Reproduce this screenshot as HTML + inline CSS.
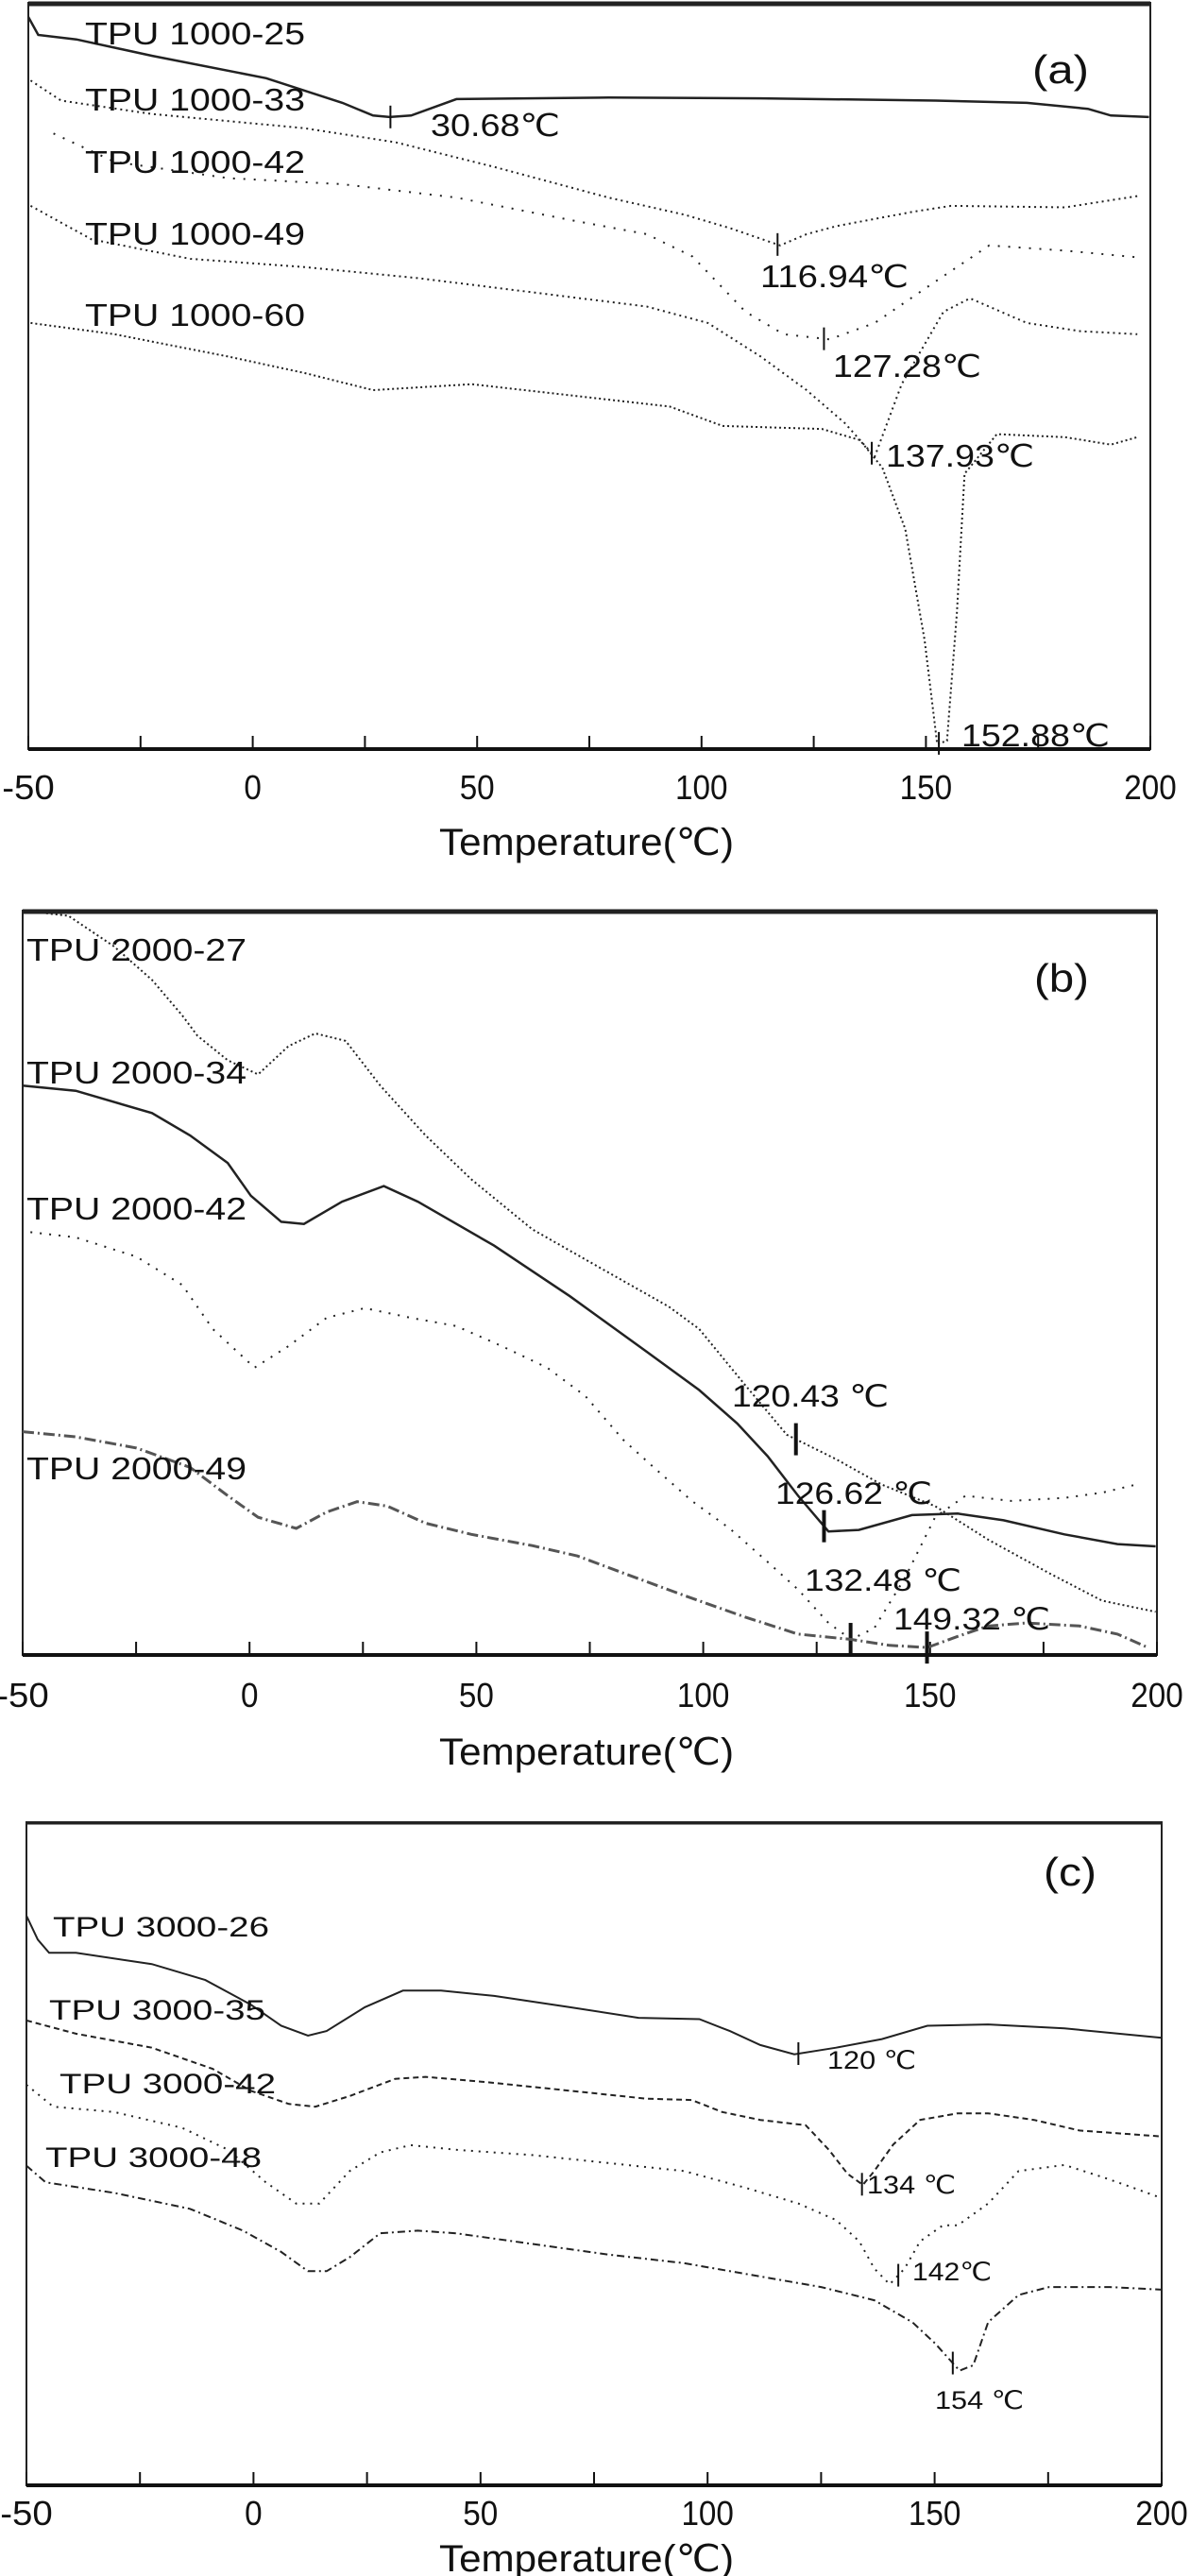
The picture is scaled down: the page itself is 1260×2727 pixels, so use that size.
<!DOCTYPE html>
<html><head><meta charset="utf-8">
<style>
html,body{margin:0;padding:0;background:#fff;}
svg{display:block;font-family:"Liberation Sans",sans-serif;}
</style></head>
<body>
<svg id="fig" width="1260" height="2727" viewBox="0 0 1260 2727" xmlns="http://www.w3.org/2000/svg"></svg>
<script>
// ---------- data: panel (a) ----------
const aT1=[-50,-47.8,-39.3,-22.4,3,20,26.8,30.5,35.3,45.4,79.3,113.2,152.2,172.5,186.1,191.2,199.7];
const aV1=[98.1,95.7,95.1,92.9,89.9,86.6,84.9,84.7,84.9,87.1,87.3,87.2,86.9,86.6,85.8,84.9,84.7];
const aT2=[-49.5,-42.7,-22.4,11.5,31.9,53.9,79.3,96.3,106.4,117.5,123.4,130.2,147.1,155.6,181,197.1];
const aV2=[89.6,86.9,85.1,83.2,81.3,78.0,73.9,71.6,69.8,67.5,69.0,70.1,72.0,72.8,72.6,74.1];
const aT3=[-44.4,-30.8,-5.4,20,45.4,70.8,87.8,98,109.8,118.3,128.5,138.6,152.2,164.1,181,197.1];
const aV3=[82.5,78.7,76.5,75.7,73.9,70.9,69.0,66.0,58.6,55.6,54.9,57.1,62.7,67.5,66.8,65.9];
const aT4=[-49.5,-35.9,-13.9,11.5,37,62.4,87.8,101.4,113.2,123.4,131.9,138.6,144.6,153.9,159.8,172.5,184.4,197.1];
const aV4=[72.8,68.3,65.7,64.6,63.1,61.2,59.3,57.1,52.6,48.1,43.7,39.2,48.9,58.6,60.4,57.1,56.0,55.6];
const aT5=[-49.5,-30.8,-5.4,11.5,26.8,48.8,70.8,92.9,104.7,126.8,135.3,140.3,145.4,149.7,152.5,154.7,156.9,158.6,165.8,181,191.2,197.1];
const aV5=[57.1,55.6,52.6,50.4,48.1,48.9,47.4,45.9,43.3,42.9,41.4,37.7,29.5,14.6,0.7,1.1,18.3,36.9,42.2,41.8,40.8,41.8];
const aNames=["TPU 1000-25","TPU 1000-33","TPU 1000-42","TPU 1000-49","TPU 1000-60"];
const aPeaks=[30.68,116.94,127.28,137.93,152.88];
const aPeakLabels=["30.68℃","116.94℃","127.28℃","137.93℃","152.88℃"];
// ---------- data: panel (b) ----------
const bT1=[-50,-39.9,-29.9,-21.5,-14.8,-11.5,-4.8,1.9,8.6,14.5,21.2,28.8,38.8,48.9,62.3,77.3,92.4,99.1,109.2,118.4,129.3,139.3,151.1,162.8,176.2,187.9,199.7];
const bV1=[100,99.3,95.2,90.7,85.9,83.2,79.9,78.0,81.8,83.5,82.5,76.5,69.8,63.9,57.2,52.0,46.8,43.8,36.3,29.6,26.3,22.9,20.0,15.5,11.0,7.3,5.8];
const bT2=[-50,-38.3,-21.5,-13.1,-4.8,0.3,7.0,12.0,20.4,29.6,37.1,53.9,70.6,87.4,99.1,107.5,114.2,120.9,127.6,134.3,146.0,156.1,166.2,179.6,191.3,199.7];
const bV2=[76.5,75.8,72.8,69.8,66.1,61.7,58.2,57.9,60.9,63.0,60.9,55.0,48.2,40.8,35.6,31.1,26.7,21.4,16.6,16.8,18.8,19.0,18.1,16.2,14.9,14.6];
const bT3=[-48.3,-38.3,-24.9,-14.8,-8.1,1.1,8.6,17.0,25.4,35.5,45.5,55.6,65.6,74.0,82.4,89.1,97.5,105.8,114.2,120.9,127.6,132.6,137.7,144.4,151.1,157.8,167.8,179.6,187.9,195.5];
const bV3=[56.8,56.1,53.5,49.7,43.8,38.6,41.5,45.3,46.6,45.3,44.2,41.5,38.6,34.8,28.9,25.2,20.7,17.0,12.5,8.8,4.3,2.1,3.6,10.3,18.5,21.4,20.7,21.1,21.8,22.9];
const bT4=[-50,-38.3,-24.9,-13.1,-4.8,1.9,10.3,17.0,23.7,30.4,38.8,48.9,62.3,72.3,82.4,95.8,109.2,120.9,132.6,141.0,149.4,156.1,162.8,171.2,182.9,191.3,198.0];
const bV4=[30.0,29.3,27.8,25.2,21.4,18.5,17.0,19.2,20.6,20.0,17.7,16.2,14.7,13.3,11.0,8.0,5.1,2.8,2.1,1.3,1.0,2.5,3.9,4.3,3.9,2.8,1.0];
const bNames=["TPU 2000-27","TPU 2000-34","TPU 2000-42","TPU 2000-49"];
const bPeaks=[120.43,126.62,132.48,149.32];
const bPeakLabels=["120.43 ℃","126.62 ℃","132.48 ℃","149.32 ℃"];
// ---------- data: panel (c) ----------
const cT1=[-50,-47.5,-45.0,-39.1,-22.4,-10.6,-0.6,6.1,12.0,16.1,24.5,32.9,41.3,53.0,69.7,84.8,98.2,104.9,111.6,119.1,128.3,138.4,148.4,161.8,178.6,200];
const cV1=[85.9,82.3,80.3,80.3,78.6,76.2,72.5,69.3,67.8,68.5,72.1,74.6,74.6,73.8,72.1,70.5,70.3,68.5,66.4,65.0,66.0,67.3,69.3,69.5,68.9,67.5];
const cT2=[-50,-39.1,-22.4,-9.0,-0.6,7.8,13.6,21.2,31.2,37.9,51.3,69.7,86.5,96.5,103.2,111.6,121.6,126.7,130.8,134.2,136.7,140.9,146.8,155.1,161.8,171.9,181.9,200];
const cV2=[70.1,68.1,66.0,62.8,59.5,57.5,57.1,58.7,61.3,61.6,60.8,59.5,58.3,58.1,56.3,55.1,54.3,50.6,47.0,45.3,47.4,51.4,55.1,56.1,56.1,55.1,53.5,52.6];
const cT3=[-50,-44.1,-30.7,-15.7,-5.6,2.7,9.4,14.5,21.2,27.9,34.6,44.6,61.4,78.1,94.8,108.2,120.0,128.3,133.4,136.7,140.1,143.4,146.8,151.8,155.1,161.8,168.5,178.6,186.9,193.6,200];
const cV3=[60.4,57.1,56.3,53.9,50.6,45.7,42.5,42.5,47.4,50.2,51.3,50.6,49.8,48.6,47.4,44.9,42.5,40.0,36.8,32.7,30.3,32.7,36.8,39.2,39.2,42.5,47.4,48.3,46.5,44.9,43.3];
const cT4=[-50,-45.8,-30.7,-14.0,-2.3,6.1,12.0,16.1,21.2,27.9,36.2,44.6,61.4,78.1,94.8,111.6,125.0,136.7,145.1,150.1,155.5,158.5,161.8,168.5,175.2,188.6,200];
const cV4=[48.2,45.7,44.1,41.7,38.4,35.2,32.3,32.3,34.4,38.0,38.4,38.0,36.4,34.8,33.5,31.5,29.9,27.9,24.6,21.4,17.3,18.1,24.6,28.7,29.9,29.9,29.5];
const cNames=["TPU 3000-26","TPU 3000-35","TPU 3000-42","TPU 3000-48"];
const cPeaks=[120,134,142,154];
const cPeakLabels=["120 ℃","134 ℃","142℃","154 ℃"];
const tickVals=[-50,0,50,100,150,200];
const tickLabels=["-50","0","50","100","150","200"];

const NS="http://www.w3.org/2000/svg";
const svg=document.getElementById('fig');
function mk(tag,attrs,parent){const e=document.createElementNS(NS,tag);for(const k in attrs)e.setAttribute(k,attrs[k]);(parent||svg).appendChild(e);return e;}
function txt(s,x,y,size,width,parent,anchor){const t=mk('text',{x:x,y:y,'font-size':size,fill:'#111','text-anchor':anchor||'start'},parent);if(width){t.setAttribute('textLength',width);t.setAttribute('lengthAdjust','spacingAndGlyphs');}t.textContent=s;return t;}
function interp(T,V,t){for(let i=0;i<T.length-1;i++){if(t>=T[i]&&t<=T[i+1]){return V[i]+(V[i+1]-V[i])*(t-T[i])/(T[i+1]-T[i]);}}return V[V.length-1];}

function panel(cfg){
  const g=mk('g',{});
  
  
  const sx=t=>cfg.x0+(t+50)/250*(cfg.x1-cfg.x0);
  const sy=v=>cfg.yb-v/100*(cfg.yb-cfg.yt);
  const frame=mk('rect',{x:cfg.x0,y:cfg.yt,width:cfg.x1-cfg.x0,height:cfg.yb-cfg.yt,fill:'none',stroke:'#222','stroke-width':2},g);
  
  
  const top=mk('line',{x1:cfg.x0,x2:cfg.x1,y1:cfg.yt+1,y2:cfg.yt+1,stroke:'#222','stroke-width':cfg.topW},g);
  
  
  const ax=mk('line',{x1:cfg.x0,x2:cfg.x1,y1:cfg.yb,y2:cfg.yb,stroke:'#111','stroke-width':4},g);
  
  
  for(let t=-50;t<=200;t+=25){
    const tk=mk('line',{x1:sx(t),x2:sx(t),y1:cfg.yb,y2:cfg.yb-14,stroke:'#111','stroke-width':2},g);
    
    
  }
  tickVals.forEach((t,i)=>{
    const l=tickLabels[i];
    const w=l.length*18.5;
    const tl=txt(l,sx(t),cfg.tickY,36,w,g,'middle');
    
    
  });
  const ti=txt('Temperature(℃)',621,cfg.titleY,40,312,g,'middle');
  
  
  cfg.series.forEach((s,i)=>{
    let d='';
    s.T.forEach((t,j)=>{d+=(j?'L':'M')+sx(t).toFixed(1)+','+sy(s.V[j]).toFixed(1);});
    const p=mk('path',{d:d,fill:'none',stroke:s.color||'#222','stroke-width':s.w||2,'stroke-dasharray':s.dash||'none'},g);
    
    
    const lb=txt(s.label,s.lx,s.ly,cfg.labSize,cfg.labW,g);
    
    
    const pt=s.peak, pv=interp(s.T,s.V,pt);
    const m=mk('line',{x1:sx(pt),x2:sx(pt),y1:sy(pv)-cfg.mk,y2:sy(pv)+cfg.mk,stroke:'#111','stroke-width':cfg.mkW},g);
    
    
    const pl=txt(s.plabel,s.px,s.py,cfg.pSize,s.pw,g);
    
    
  });
  const pn=txt(cfg.tag,cfg.tagX,cfg.tagY,42,cfg.tagW,g);
  
  
}

panel({name:'panel-a',x0:30,x1:1218,yt:3,yb:793,topW:5,tickY:846,titleY:905,labSize:33,labW:233,pSize:33,mk:12,mkW:2,tag:'(a)',tagX:1093,tagY:88,tagW:60,
 series:[
  {id:'1000-25',T:aT1,V:aV1,w:2.5,label:aNames[0],lx:90,ly:47,peak:aPeaks[0],plabel:aPeakLabels[0],px:456,py:144,pw:137},
  {id:'1000-33',T:aT2,V:aV2,dash:'2,4',label:aNames[1],lx:90,ly:117,peak:aPeaks[1],plabel:aPeakLabels[1],px:805,py:304,pw:157},
  {id:'1000-42',T:aT3,V:aV3,dash:'2,9',label:aNames[2],lx:90,ly:183,peak:aPeaks[2],plabel:aPeakLabels[2],px:882,py:399,pw:157},
  {id:'1000-49',T:aT4,V:aV4,dash:'2,4',label:aNames[3],lx:90,ly:259,peak:aPeaks[3],plabel:aPeakLabels[3],px:938,py:494,pw:157},
  {id:'1000-60',T:aT5,V:aV5,dash:'2,3',label:aNames[4],lx:90,ly:345,peak:aPeaks[4],plabel:aPeakLabels[4],px:1018,py:790,pw:157}
 ]});

panel({name:'panel-b',x0:24,x1:1225,yt:964,yb:1752,topW:5,tickY:1807,titleY:1868,labSize:33,labW:233,pSize:32,mk:17,mkW:4,tag:'(b)',tagX:1095,tagY:1050,tagW:58,
 series:[
  {id:'2000-27',T:bT1,V:bV1,dash:'2,3',label:bNames[0],lx:28,ly:1017,peak:bPeaks[0],plabel:bPeakLabels[0],px:775,py:1489,pw:166},
  {id:'2000-34',T:bT2,V:bV2,w:2.5,label:bNames[1],lx:28,ly:1147,peak:bPeaks[1],plabel:bPeakLabels[1],px:821,py:1592,pw:166},
  {id:'2000-42',T:bT3,V:bV3,dash:'2,8',label:bNames[2],lx:28,ly:1291,peak:bPeaks[2],plabel:bPeakLabels[2],px:852,py:1684,pw:166},
  {id:'2000-49',T:bT4,V:bV4,dash:'12,4,2,4',color:'#555',w:3,label:bNames[3],lx:28,ly:1566,peak:bPeaks[3],plabel:bPeakLabels[3],px:946,py:1725,pw:166}
 ]});

panel({name:'panel-c',x0:28,x1:1230,yt:1929,yb:2631,topW:3,tickY:2673,titleY:2722,labSize:30,labW:229,pSize:27,mk:12,mkW:2,tag:'(c)',tagX:1105,tagY:1996,tagW:56,
 series:[
  {id:'3000-26',T:cT1,V:cV1,w:2,label:cNames[0],lx:56,ly:2050,peak:cPeaks[0],plabel:cPeakLabels[0],px:876,py:2190,pw:94},
  {id:'3000-35',T:cT2,V:cV2,dash:'6,4',label:cNames[1],lx:52,ly:2138,peak:cPeaks[1],plabel:cPeakLabels[1],px:918,py:2322,pw:94},
  {id:'3000-42',T:cT3,V:cV3,dash:'2,6',label:cNames[2],lx:63,ly:2216,peak:cPeaks[2],plabel:cPeakLabels[2],px:966,py:2414,pw:84},
  {id:'3000-48',T:cT4,V:cV4,dash:'8,4,2,4',label:cNames[3],lx:48,ly:2294,peak:cPeaks[3],plabel:cPeakLabels[3],px:990,py:2550,pw:94}
 ]});
</script>
</body></html>
